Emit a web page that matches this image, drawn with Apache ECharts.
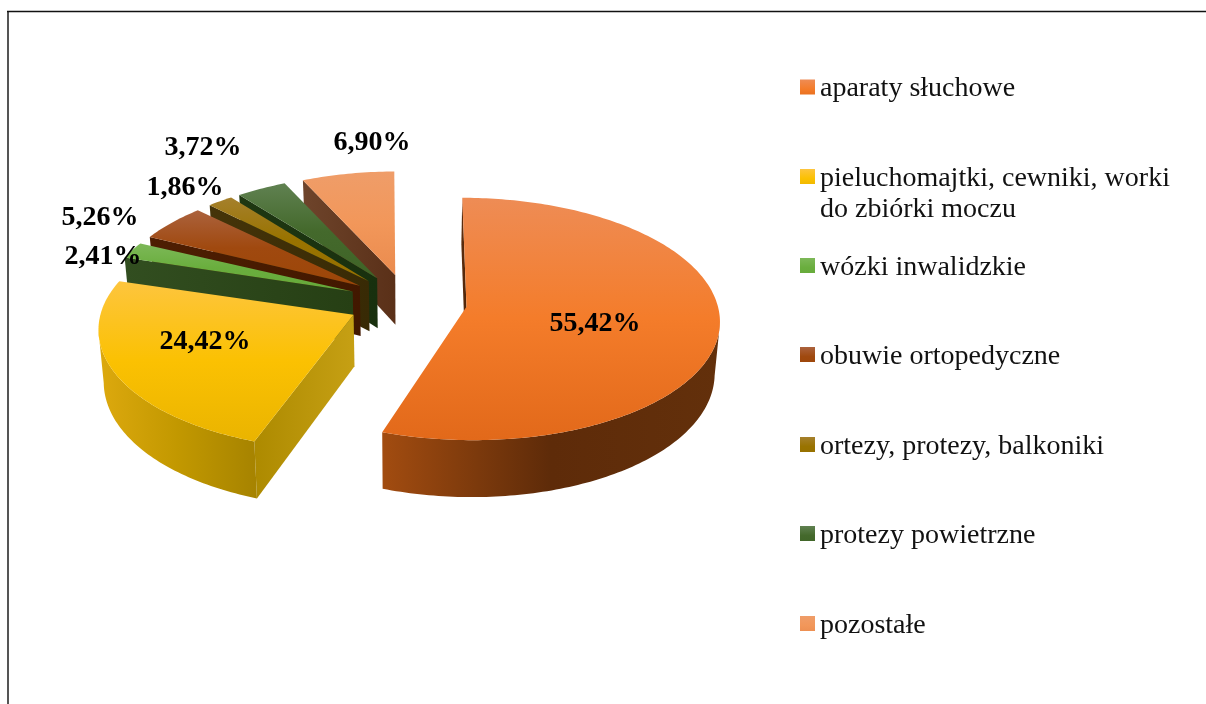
<!DOCTYPE html>
<html lang="pl">
<head>
<meta charset="utf-8">
<title>Wykres</title>
<script src="https://cdn.jsdelivr.net/npm/echarts@6/dist/echarts.min.js"></script>
<style>
  html, body { margin: 0; padding: 0; background: #fff; }
  #chart { width: 1206px; height: 704px; }
</style>
</head>
<body>
<div id="chart"></div>
<script>
// dane
const categories = [
  'aparaty słuchowe',
  'pieluchomajtki, cewniki, worki do zbiórki moczu',
  'wózki inwalidzkie',
  'obuwie ortopedyczne',
  'ortezy, protezy, balkoniki',
  'protezy powietrzne',
  'pozostałe'
];
const shares = [55.42, 24.42, 2.41, 5.26, 1.86, 3.72, 6.90];

// kolory: gora plasterka, sciana boczna
const faceColors = [
  ['#EE8C55', '#F47C2A', '#E2691A'],
  ['#FDC53E', '#FBC102', '#EAB400'],
  ['#7DB858', '#6AAE3E', '#66A93A'],
  ['#AB623D', '#A0490F', '#9C4608'],
  ['#A5802C', '#997300', '#967000'],
  ['#608151', '#44692C', '#3F6427'],
  ['#EF9D69', '#F2975A', '#EA8B4E']
];
const rimColors = [
  ['#A24C10', '#5E2B09', '#63300B'],
  ['#DDA90E', '#C29800', '#A68300'],
  ['#2F4A1C', '#2F4A1C', '#2F4A1C'],
  ['#4A1C00', '#4A1C00', '#4A1C00'],
  ['#403008', '#403008', '#403008'],
  ['#1C3210', '#1C3210', '#1C3210'],
  ['#6B4129', '#6B4129', '#6B4129']
];
const wallColors = [
  ['#5E2E0E', '#4E2408'],
  ['#AD8A00', '#C6A014'],
  ['#324E20', '#263F14'],
  ['#4E1E02', '#421800'],
  ['#453409', '#382A05'],
  ['#1F3712', '#18300E'],
  ['#6E442B', '#5A3018']
];

// uklad: srodki etykiet i legendy
const labelCenters = [[595, 324], [205, 342], [103, 257], [100, 218], [185, 188], [203, 148], [372, 143]];
const legendRows = [87, 176.5, 265.5, 354.5, 444.5, 533.5, 623.5];

// rzut perspektywiczny kola
const cx = 407.5, cy = 302, fx = 250.5, fy = 119, depth = 51, persp = 0.1, explode = 0.238, shrink = 0.017;
const camY = 1 / persp;

function project(X, Y, Z) {
  const w = 1 - persp * Y;
  return [cx + (fx * X / w) * (1 - shrink * Z) + 1.2 * Math.max(0, -Y), cy + (fy * Y + depth * Z) / w];
}

const total = shares.reduce((a, b) => a + b, 0);
const ranges = [];
let acc = 0;
shares.forEach(v => {
  ranges.push([acc / total * 360, (acc + v) / total * 360]);
  acc += v;
});

function grad(colors, vertical) {
  const n = colors.length - 1;
  return new echarts.graphic.LinearGradient(0, 0, vertical ? 0 : 1, vertical ? 1 : 0,
    colors.map((c, i) => ({ offset: i / n, color: c })));
}

function rad(d) { return d * Math.PI / 180; }

function renderSlice(idx) {
  const a = ranges[idx][0], b = ranges[idx][1];
  const mid = rad((a + b) / 2);
  const ox = explode * Math.sin(mid), oy = -explode * Math.cos(mid);
  const rimPoint = (deg, z) => project(ox + Math.sin(rad(deg)), oy - Math.cos(rad(deg)), z);
  const children = [];

  // sciany ciecia, tylko te zwrocone do widza
  const faces = [[a, -1], [b, 1]];
  faces.forEach(([deg, sign]) => {
    const nx = sign * Math.cos(rad(deg)), ny = sign * Math.sin(rad(deg));
    if (nx * (0 - ox) + ny * (camY - oy) <= 0.1) return;
    children.push({
      type: 'polygon',
      z2: 1,
      shape: { points: [rimPoint(deg, 0), project(ox, oy, 0), project(ox, oy, 1), rimPoint(deg, 1)] },
      style: { fill: grad(wallColors[idx]) }
    });
  });

  // sciana zewnetrzna
  const top = [], bottom = [];
  for (let d = a; d <= b + 0.001; d += Math.min(1, (b - a) / 8)) {
    const nx = Math.sin(rad(d)), ny = -Math.cos(rad(d));
    if (nx * (0 - ox) + ny * (camY - oy) - 1 > 0) {
      top.push(rimPoint(d, 0));
      bottom.unshift(rimPoint(d, 1));
    }
  }
  if (top.length > 1) {
    children.push({
      type: 'polygon',
      z2: 2,
      shape: { points: top.concat(bottom) },
      style: { fill: grad(rimColors[idx]) }
    });
  }

  // gora plasterka
  const pts = [project(ox, oy, 0)];
  for (let d = a; d <= b + 0.001; d += Math.min(1, (b - a) / 8)) pts.push(rimPoint(d, 0));
  children.push({
    type: 'polygon',
    z2: 3,
    shape: { points: pts },
    style: { fill: grad(faceColors[idx], true) }
  });
  return { type: 'group', children: children };
}

// kolejnosc rysowania od tylu do przodu
const depthOf = ranges.map(r => -Math.cos(rad((r[0] + r[1]) / 2)));
const rank = depthOf.map(d => depthOf.filter(o => o < d).length);

const series = categories.map((name, i) => ({
  type: 'custom',
  name: name,
  coordinateSystem: 'none',
  silent: true,
  z: 2 + rank[i],
  itemStyle: { color: grad(faceColors[i], true) },
  data: [shares[i]],
  renderItem: () => renderSlice(i)
}));

// etykiety procentowe
series.push({
  type: 'custom',
  name: 'etykiety',
  coordinateSystem: 'none',
  silent: true,
  z: 20,
  data: shares,
  renderItem: (params, api) => ({
    type: 'text',
    style: {
      text: api.value(0).toFixed(2).replace('.', ',') + '%',
      x: labelCenters[params.dataIndex][0],
      y: labelCenters[params.dataIndex][1],
      align: 'center',
      verticalAlign: 'middle',
      fill: '#000',
      font: 'bold 28px "Liberation Serif"'
    }
  })
});

// kwadrat w legendzie lekko nad srodkiem tekstu
const legendIcon = 'path://M0,0L15,0L15,15L0,15ZM0,19L0,19Z';

const legends = categories.map((name, i) => {
  const wrapped = name.indexOf(' do zbiórki') > 0;
  return {
    left: 800,
    top: legendRows[i] + 2 - 15.5 - (wrapped ? 31 : 0),
    padding: 0,
    icon: legendIcon,
    itemWidth: 15,
    itemHeight: 19,
    selectedMode: false,
    data: [{ name: name, itemStyle: { color: grad(faceColors[i], true) } }],
    formatter: n => (wrapped ? '\n' + n.replace(' do zbiórki', '\ndo zbiórki') : n),
    textStyle: { fontFamily: 'Liberation Serif', fontSize: 28, lineHeight: 31, color: '#111' }
  };
});

const myChart = echarts.init(document.getElementById('chart'), null, { renderer: 'canvas' });
myChart.setOption({
  animation: false,
  backgroundColor: '#fff',
  legend: legends,
  graphic: [
    { type: 'line', silent: true, shape: { x1: 8, y1: 11, x2: 8, y2: 704 }, style: { stroke: '#555', lineWidth: 2 } },
    { type: 'line', silent: true, shape: { x1: 7, y1: 11.5, x2: 1206, y2: 11.5 }, style: { stroke: '#111', lineWidth: 1.5 } }
  ],
  series: series
});
window.addEventListener('resize', () => myChart.resize());
</script>
</body>
</html>
